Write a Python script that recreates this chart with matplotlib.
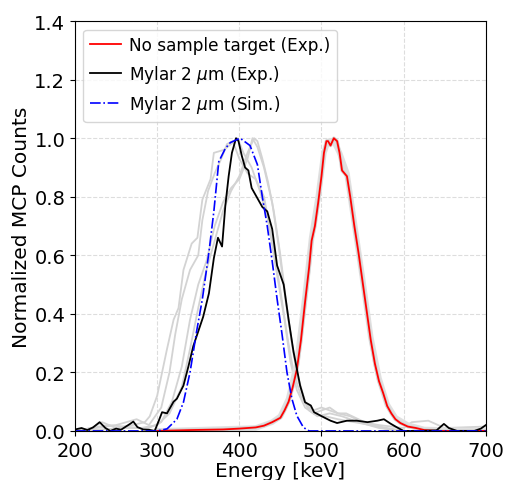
import matplotlib
matplotlib.use("Agg")
import matplotlib.pyplot as plt

# No sample target (Exp.)
E_ref = [300, 340, 380, 400, 420, 430, 440, 450, 455, 460, 465, 470, 475, 480, 485, 488, 492,
         496, 500, 503, 506, 508, 511, 515, 519, 522, 525, 528, 531, 535, 540, 545, 550, 555,
         560, 565, 570, 575, 580, 585, 590, 596, 605, 615, 625, 640, 700]
y_ref = [0.0, 0.003, 0.005, 0.008, 0.012, 0.018, 0.03, 0.045, 0.07, 0.10, 0.15, 0.21, 0.31, 0.44,
         0.56, 0.65, 0.70, 0.78, 0.87, 0.95, 0.99, 0.99, 0.975, 1.0, 0.99, 0.95, 0.89, 0.88, 0.87,
         0.80, 0.70, 0.61, 0.51, 0.41, 0.31, 0.23, 0.17, 0.13, 0.085, 0.06, 0.04, 0.027, 0.015,
         0.01, 0.003, 0.0, 0.0]

# Mylar 2 um (Exp.)
E_my = [200, 208, 215, 222, 230, 237, 243, 250, 256, 262, 267, 271, 276, 283, 290, 297, 302, 306,
        312, 316, 320, 324, 332, 338, 344, 350, 356, 363, 369, 374, 379, 383, 387, 391, 396, 399,
        403, 407, 411, 415, 421, 428, 434, 440, 446, 454, 460, 466, 474, 480, 487, 491, 499, 511,
        519, 531, 543, 556, 568, 576, 584, 592, 600, 620, 640, 649, 655, 665, 686, 694, 700]
y_my = [0.005, 0.01, 0.003, 0.012, 0.03, 0.01, 0.0, 0.008, 0.004, 0.015, 0.024, 0.032, 0.013,
        0.005, 0.004, 0.0, 0.035, 0.064, 0.06, 0.08, 0.10, 0.11, 0.155, 0.22, 0.29, 0.34, 0.39,
        0.47, 0.59, 0.66, 0.63, 0.77, 0.87, 0.95, 1.0, 0.99, 0.94, 0.90, 0.89, 0.83, 0.80, 0.765,
        0.75, 0.69, 0.565, 0.50, 0.38, 0.27, 0.155, 0.098, 0.087, 0.064, 0.052, 0.035, 0.027,
        0.035, 0.035, 0.03, 0.035, 0.04, 0.025, 0.012, 0.0, 0.0, 0.002, 0.024, 0.01, 0.0, 0.0,
        0.008, 0.02]

# Mylar 2 um (Sim.)
E_sim = [200, 300, 312, 324, 332, 340, 348, 355, 363, 369, 375, 383, 389, 401, 413, 422, 428,
         434, 440, 446, 452, 458, 464, 470, 478, 485, 700]
y_sim = [0.0, 0.0, 0.007, 0.04, 0.098, 0.2, 0.34, 0.45, 0.61, 0.75, 0.92, 0.965, 0.985, 1.0,
         0.975, 0.91, 0.80, 0.70, 0.58, 0.45, 0.33, 0.20, 0.11, 0.052, 0.012, 0.0, 0.0]

# other runs (grey)
E_g1 = [200, 220, 233, 250, 270, 285, 291, 300, 312, 320, 326, 332, 342, 349, 355, 365, 369,
        381, 390, 398, 405, 415, 425, 435, 445, 455, 462, 470, 480, 490, 500, 510, 520, 530,
        545, 560, 580, 600]
y_g1 = [0.0, 0.01, 0.03, 0.01, 0.02, 0.03, 0.05, 0.12, 0.28, 0.38, 0.42, 0.55, 0.64, 0.66,
        0.79, 0.86, 0.95, 0.96, 0.98, 1.0, 0.95, 0.9, 0.82, 0.72, 0.55, 0.38, 0.24, 0.14, 0.08,
        0.06, 0.07, 0.08, 0.06, 0.06, 0.04, 0.02, 0.01, 0.0]
E_g2 = [200, 240, 280, 300, 315, 330, 340, 350, 360, 370, 380, 390, 400, 410, 418, 422, 428,
        435, 442, 450, 458, 465, 472, 480, 490, 500, 510, 520, 535, 550, 570, 600, 610, 630,
        650, 700]
y_g2 = [0.0, 0.02, 0.01, 0.02, 0.06, 0.15, 0.28, 0.42, 0.55, 0.65, 0.75, 0.82, 0.87, 0.95,
        1.0, 0.99, 0.93, 0.85, 0.75, 0.6, 0.42, 0.28, 0.17, 0.1, 0.07, 0.08, 0.07, 0.06, 0.05,
        0.03, 0.02, 0.01, 0.03, 0.035, 0.01, 0.015]
E_g3 = [200, 260, 290, 305, 318, 330, 340, 350, 360, 370, 380, 390, 400, 410, 416, 422, 430,
        440, 448, 456, 464, 472, 480, 490, 505, 520, 540, 560, 590, 700]
y_g3 = [0.0, 0.01, 0.01, 0.03, 0.1, 0.22, 0.38, 0.5, 0.58, 0.7, 0.78, 0.83, 0.86, 0.93, 1.0,
        0.97, 0.9, 0.78, 0.63, 0.45, 0.3, 0.18, 0.1, 0.06, 0.05, 0.04, 0.03, 0.02, 0.0, 0.0]
E_g4 = [200, 250, 275, 290, 305, 315, 322, 330, 340, 350, 355, 362, 370, 378, 385, 392, 400,
        410, 420, 430, 440, 450, 458, 466, 475, 485, 495, 510, 525, 545, 570, 600, 700]
y_g4 = [0.0, 0.02, 0.04, 0.02, 0.08, 0.2, 0.33, 0.45, 0.55, 0.6, 0.72, 0.82, 0.88, 0.93, 0.98,
        0.99, 0.93, 0.88, 0.86, 0.8, 0.65, 0.48, 0.33, 0.2, 0.12, 0.07, 0.05, 0.06, 0.05, 0.03,
        0.01, 0.0, 0.0]
# grey copies around the no-target curve
E_g5 = [300, 420, 440, 450, 460, 470, 480, 488, 496, 503, 508, 515, 522, 531, 540, 550, 560,
        570, 580, 590, 605, 625, 700]
y_g5 = [0.0, 0.01, 0.03, 0.05, 0.11, 0.23, 0.46, 0.66, 0.8, 0.95, 0.99, 0.99, 0.95, 0.88, 0.71,
        0.52, 0.32, 0.18, 0.09, 0.045, 0.02, 0.005, 0.0]

fig = plt.figure(figsize=(5.05, 4.81), dpi=100)
ax = fig.add_axes([0.1485, 0.102, 0.8135, 0.852])

for E, y in [(E_g1, y_g1), (E_g2, y_g2), (E_g3, y_g3), (E_g4, y_g4)]:
    ax.plot(E, y, color="lightgray", lw=1.3)
ax.plot(E_g5, y_g5, color="#e0e0e0", lw=4)
ax.plot(E_ref, y_ref, color="lightgray", lw=2.5)

ax.plot(E_ref, y_ref, color="red", lw=1.3, label="No sample target (Exp.)")
ax.plot(E_my, y_my, color="black", lw=1.3, label=r"Mylar 2 $\mu$m (Exp.)")
ax.plot(E_sim, y_sim, color="blue", lw=1.2, ls="-.", label=r"Mylar 2 $\mu$m (Sim.)")

ax.set_xlim(200, 700)
ax.set_ylim(0, 1.4)
ax.set_xticks([200, 300, 400, 500, 600, 700])
ax.set_yticks([0.0, 0.2, 0.4, 0.6, 0.8, 1.0, 1.2, 1.4])
ax.tick_params(labelsize=14)
ax.grid(True, ls="--", color="#dddddd", lw=0.8)
ax.set_xlabel("Energy [keV]", fontsize=14.5, labelpad=1)
ax.set_ylabel("Normalized MCP Counts", fontsize=14.5, labelpad=2)
ax.legend(loc="upper left", fontsize=12.2, handlelength=1.8, handletextpad=0.5)

fig.savefig("out.png", dpi=100)
